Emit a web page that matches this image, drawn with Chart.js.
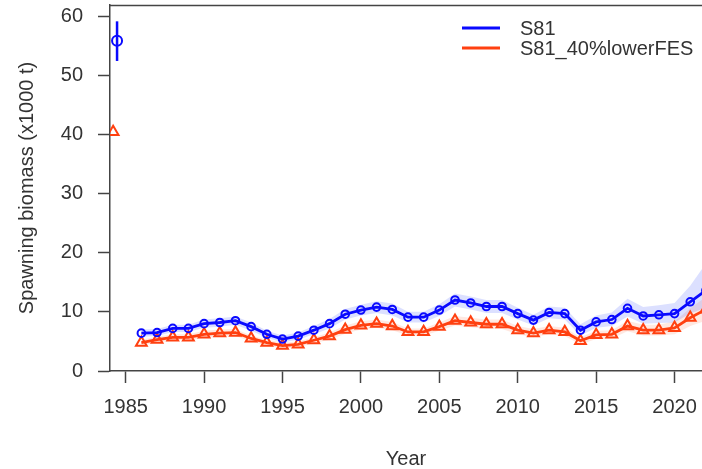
<!DOCTYPE html>
<html><head><meta charset="utf-8">
<script src="https://cdn.jsdelivr.net/npm/chart.js@4.4.1/dist/chart.umd.min.js"></script>
<style>html,body{margin:0;padding:0;background:#fff;}#wrap{width:702px;height:469px;}</style>
</head><body><div id="wrap"><canvas id="c" width="702" height="469"></canvas></div>
<script>
const years = [1986,1987,1988,1989,1990,1991,1992,1993,1994,1995,1996,1997,1998,1999,2000,2001,2002,2003,2004,2005,2006,2007,2008,2009,2010,2011,2012,2013,2014,2015,2016,2017,2018,2019,2020,2021,2022];
const s81 = [6.4,6.5,7.2,7.2,8.0,8.2,8.5,7.5,6.2,5.4,5.9,6.9,8.0,9.6,10.3,10.8,10.4,9.1,9.1,10.3,12.0,11.5,10.9,10.9,9.7,8.6,9.9,9.7,6.9,8.3,8.7,10.6,9.3,9.5,9.7,11.7,13.6];
const s81Lo = [5.8,5.9,6.6,6.6,7.3,7.5,7.8,6.8,5.6,4.8,5.3,6.2,7.2,8.7,9.4,9.8,9.4,8.2,8.2,9.3,10.9,10.4,9.8,9.8,8.7,7.7,8.9,8.7,6.0,7.3,7.6,9.2,8.0,8.1,8.2,9.7,10.7];
const s81Hi = [7.0,7.1,7.8,7.8,8.7,8.9,9.2,8.2,6.8,6.0,6.5,7.6,8.8,10.5,11.2,11.8,11.4,10.0,10.0,11.3,13.1,12.6,12.0,12.0,10.7,9.5,10.9,10.7,7.9,9.4,9.9,12.2,10.8,11.1,11.5,14.4,18.2];
const low40 = [4.8,5.3,5.7,5.7,6.2,6.4,6.5,5.5,4.8,4.3,4.5,5.2,5.9,7.0,7.7,8.0,7.6,6.6,6.6,7.5,8.5,8.2,7.9,7.9,6.9,6.4,6.9,6.6,5.1,6.1,6.2,7.6,6.9,6.9,7.3,9.0,10.4];
const low40Lo = [4.3,4.8,5.2,5.2,5.6,5.8,5.9,5.0,4.3,3.8,4.0,4.7,5.3,6.3,7.0,7.3,6.9,6.0,6.0,6.8,7.7,7.4,7.1,7.1,6.2,5.7,6.2,5.9,4.5,5.4,5.5,6.7,6.0,6.0,6.2,7.6,8.5];
const low40Hi = [5.3,5.8,6.2,6.2,6.8,7.0,7.1,6.0,5.3,4.8,5.0,5.7,6.5,7.7,8.4,8.7,8.3,7.2,7.2,8.2,9.3,9.0,8.7,8.7,7.6,7.1,7.6,7.3,5.7,6.8,6.9,8.5,7.8,7.8,8.4,10.6,12.5];
// initial (equilibrium) points
const initYears = [1984.45, 1984.2];
const initValues = [55.8, 40.4];
const initLo = [52.4];
const initHi = [59.1];
const xTicks = [1985,1990,1995,2000,2005,2010,2015,2020];
const yTicks = [0,10,20,30,40,50,60];
const seriesNames = ['S81','S81_40%lowerFES'];

const BLUE = '#0a0aff';
const RED = '#ff4010';
const FONT = '"Liberation Sans", Arial, sans-serif';
const TXT = '#333333';
const AX = '#444444';

const pts = (xs, ys) => xs.map((x, i) => ({x: x, y: ys[i]}));

const extras = {
  id: 'extras',
  afterDraw(chart) {
    const {ctx, chartArea} = chart;
    ctx.save();
    ctx.strokeStyle = AX; ctx.lineWidth = 1.5;
    ctx.beginPath(); ctx.moveTo(chartArea.left, chartArea.top + 0.5); ctx.lineTo(chartArea.right, chartArea.top + 0.5); ctx.stroke();
    const cols = [BLUE, RED];
    ctx.font = '20px ' + FONT; ctx.fillStyle = TXT; ctx.textBaseline = 'middle'; ctx.textAlign = 'left';
    seriesNames.forEach((n, i) => {
      const y = 28 + i * 20;
      ctx.strokeStyle = cols[i]; ctx.lineWidth = 3;
      ctx.beginPath(); ctx.moveTo(462, y); ctx.lineTo(500, y); ctx.stroke();
      ctx.fillText(n, 520, y + 1);
    });
    ctx.restore();
  }
};

const common = {tension: 0, pointRadius: 0, borderWidth: 0};
new Chart(document.getElementById('c'), {
  type: 'line',
  data: {
    datasets: [
      {data: pts(years, s81), borderColor: BLUE, borderWidth: 2.8, pointStyle: 'circle', pointRadius: 3.8, pointBorderWidth: 2, pointBorderColor: BLUE, pointBackgroundColor: 'rgba(255,255,255,0)', tension: 0, order: 1, fill: false},
      {data: pts(years, low40), borderColor: RED, borderWidth: 2.8, pointStyle: 'triangle', pointRadius: 6.2, pointBorderWidth: 2, pointBorderColor: RED, pointBackgroundColor: 'rgba(255,255,255,0)', tension: 0, order: 2, fill: false},
      Object.assign({data: pts(years, s81Hi), borderColor: 'rgba(0,0,0,0)', backgroundColor: 'rgba(50,70,255,0.17)', fill: 3, order: 10}, common),
      Object.assign({data: pts(years, s81Lo), borderColor: 'rgba(0,0,0,0)', fill: false, order: 11}, common),
      Object.assign({data: pts(years, low40Hi), borderColor: 'rgba(0,0,0,0)', backgroundColor: 'rgba(255,90,40,0.14)', fill: 5, order: 12}, common),
      Object.assign({data: pts(years, low40Lo), borderColor: 'rgba(0,0,0,0)', fill: false, order: 13}, common),
      {data: [{x: initYears[0], y: initLo[0]}, {x: initYears[0], y: initHi[0]}], borderColor: BLUE, borderWidth: 2.5, pointRadius: 0, order: 3, fill: false},
      {data: [{x: initYears[0], y: initValues[0]}], showLine: false, pointStyle: 'circle', pointRadius: 5, pointBorderWidth: 2, pointBorderColor: BLUE, pointBackgroundColor: 'rgba(255,255,255,0)', order: 3},
      {data: [{x: initYears[1], y: initValues[1]}], showLine: false, pointStyle: 'triangle', pointRadius: 6.2, pointBorderWidth: 2, pointBorderColor: RED, pointBackgroundColor: 'rgba(255,255,255,0)', order: 3}
    ]
  },
  options: {
    responsive: false, animation: false,
    layout: {autoPadding: false, padding: {top: 5, right: 0, left: 0, bottom: 0}},
    plugins: {legend: {display: false}, tooltip: {enabled: false}},
    scales: {
      x: {
        type: 'linear', min: 1984, max: 2021.75,
        afterBuildTicks: s => { s.ticks = xTicks.map(v => ({value: v})); },
        afterFit: s => { s.height = 98; s.paddingLeft = 0; s.paddingRight = 0; },
        ticks: {callback: v => String(v), font: {size: 20, family: FONT}, color: TXT, padding: 12, maxRotation: 0, autoSkip: false},
        grid: {drawOnChartArea: false, tickLength: 12, tickColor: AX, tickWidth: 1.5},
        border: {color: AX, width: 1.5},
        title: {display: true, text: 'Year', font: {size: 20, family: FONT, lineHeight: 1}, color: TXT, padding: {top: 0, bottom: 0}}
      },
      y: {
        min: 0, max: 61.86,
        afterBuildTicks: s => { s.ticks = yTicks.map(v => ({value: v})); },
        afterFit: s => { s.width = 110; s.paddingTop = 0; s.paddingBottom = 0; },
        ticks: {callback: v => String(v), font: {size: 20, family: FONT}, color: TXT, padding: 15},
        grid: {drawOnChartArea: false, tickLength: 12, tickColor: AX, tickWidth: 1.5},
        border: {color: AX, width: 1.5},
        title: {display: true, text: 'Spawning biomass (x1000 t)', font: {size: 20, family: FONT, lineHeight: 1}, color: TXT, padding: {top: 17, bottom: 0}}
      }
    }
  },
  plugins: [extras]
});
</script></body></html>
